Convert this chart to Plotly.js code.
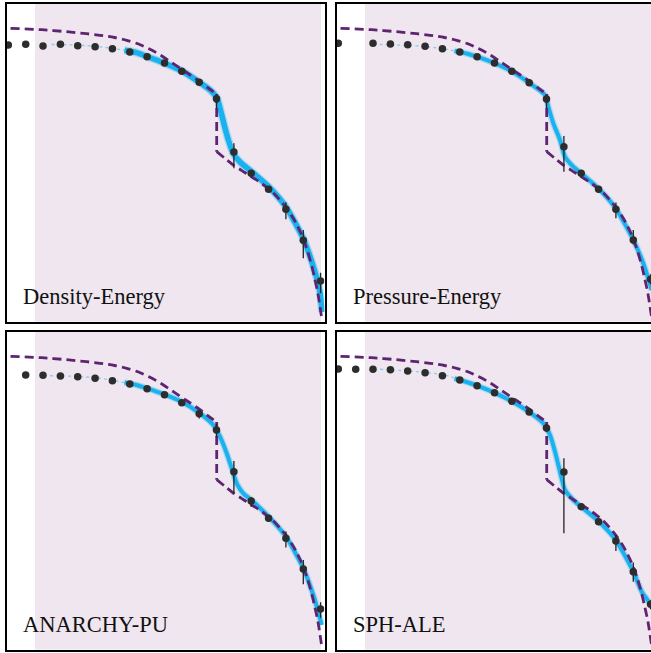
<!DOCTYPE html>
<html>
<head>
<meta charset="utf-8">
<script src="https://cdn.plot.ly/plotly-3.0.1.min.js"></script>
<style>
html, body { margin: 0; padding: 0; overflow: hidden; background: #fff; }
#chart { width: 662px; height: 653px; }
</style>
</head>
<body>
<div id="chart"></div>
<script>
// ---------- data (arbitrary units) ----------
const panelNames = ['Density-Energy', 'Pressure-Energy', 'ANARCHY-PU', 'SPH-ALE'];

// bin centres of the binned means
const xBins = [1.8, 19.2, 36.5, 53.9, 71.2, 88.6, 105.9, 123.3, 140.6, 158.0, 175.3, 192.7, 210.0, 227.4, 244.7, 262.1, 279.4, 296.8, 314.1];

// binned means + asymmetric errors
const meanDE  = [276.5, 277.2, 275.5, 277.2, 275.8, 274.8, 272.8, 269.5, 264.8, 258.5, 250.2, 239.2, 222.8, 169.5, 148.2, 132.2, 112.2, 81.2, 40.5];
const errUpDE = [0, 0, 0, 0, 0, 0, 0, 0, 0, 0, 0, 1, 4.3, 8.7, 2, 1, 7, 10.3, 8.3];
const errDnDE = [0, 0, 0, 0, 0, 0, 0, 0, 0, 0, 0, 2, 9.7, 16.3, 3, 2, 10, 18, 12.3];

const meanPE  = [278.2, null, 278.2, 277.5, 276.8, 275.2, 272.8, 269.5, 264.8, 258.5, 250.2, 238.8, 222.5, 174.8, 148.2, 132.2, 112.2, 81.5, 42.2];
const errUpPE = [0, 0, 0, 0, 0, 0, 0, 0, 0, 0, 0, 1, 4, 10.7, 2, 2, 6.7, 10, 5];
const errDnPE = [0, 0, 0, 0, 0, 0, 0, 0, 0, 0, 0, 1, 9.3, 25, 3, 3, 9, 4.3, 5];

const meanAPU  = [null, 274.5, 274.2, 273.5, 272.8, 271.2, 268.8, 265.5, 260.8, 254.8, 246.8, 235.8, 219.5, 177.8, 148.5, 131.2, 111.2, 80.5, 40.5];
const errUpAPU = [0, 0, 0, 0, 0, 0, 0, 0, 0, 0, 0, 3.7, 5.7, 10.7, 4, 2, 6.7, 9, 6.7];
const errDnAPU = [0, 0, 0, 0, 0, 0, 0, 0, 0, 0, 0, 4.7, 6.7, 21.7, 5.7, 3, 9.3, 15.3, 8.7];

const meanALE  = [280.5, 280.2, 280.2, 279.8, 278.5, 276.8, 273.8, 269.5, 263.8, 256.8, 248.2, 237.5, 221.5, 177.5, 142.8, 127.8, 108.5, 77.8, 45.2];
const errUpALE = [0, 0, 0, 0, 0, 0, 0, 0, 0, 0, 0, 1, 3.7, 13.7, 2, 2, 6, 9.3, 4];
const errDnALE = [0, 0, 0, 0, 0, 0, 0, 0, 0, 0, 0, 1, 4.3, 61.3, 3, 3, 10, 10, 5];

// analytic solution (same in every panel): pre-shock and post-shock branches
const anaPreX  = [4, 35, 60.2, 80, 93.5, 108, 120.2, 132, 143, 155, 166.8, 180, 193.5, 203, 210.2];
const anaPreY  = [293.2, 291.8, 289.8, 287.8, 286.2, 284, 281.2, 277.5, 272.5, 265.8, 257.8, 249, 239.8, 232.5, 227.5];
const anaPostX = [210.2, 218, 226.8, 235, 243.5, 252, 260.2, 267, 273, 280.2, 286, 290.2, 294, 297.5, 301, 304.5, 308, 311.5, 315.5];
const anaPostY = [169.8, 163.5, 156.5, 151.2, 145.5, 140.2, 134.2, 128.5, 122, 113.2, 104.5, 97, 89.2, 80.5, 70.5, 58.5, 44, 27.5, 1.5];

// particle cloud: sparse inner part and dense band
const faintXDE = [45, 70, 90, 110, 122];
const faintYDE = [277, 276.5, 275, 272.5, 270.5];
const bandXDE = [118, 130, 140.5, 157.5, 175.5, 192.5, 203.5, 210.5, 214.5, 218.5, 222.5, 226.5, 233.5, 245.5, 262.5, 279.5, 296.5, 308.5, 313.5, 315.5];
const bandYDE = [271.2, 268.8, 265, 258.5, 250.5, 239.5, 231.5, 223.5, 209.5, 193.5, 179.5, 168.5, 159.5, 149.5, 134.5, 114.5, 83.5, 49.5, 29.5, 9.5];

const faintXPE = [36.8, 60, 90.2, 112, 122];
const faintYPE = [277.2, 276.5, 274.8, 271.8, 269.8];
const bandXPE = [118, 130, 140.2, 157.5, 175.2, 192.5, 208.5, 211.8, 216.8, 223.5, 228.5, 236.8, 244.5, 261.8, 279.2, 296.5, 306.8, 315.2];
const bandYPE = [270.5, 268, 264.8, 258.5, 250.2, 238.8, 226.5, 214.8, 198.2, 181.5, 164.8, 154.8, 148.2, 133.2, 113.2, 82.2, 58.2, 31.5];

const faintXAPU = [43.5, 70, 93.5, 112, 122];
const faintYAPU = [273.8, 273, 271.2, 268, 266];
const bandXAPU = [118, 130, 140.5, 157.8, 175.2, 192.5, 206.8, 213.5, 220.2, 225.2, 230.2, 236.8, 244.8, 262.2, 279.5, 296.8, 306.8, 313.5, 315.2];
const bandYAPU = [267, 264.5, 261.2, 255.2, 247.8, 236.8, 224.5, 212.8, 196.2, 181.2, 166.2, 156.2, 149.5, 132.8, 112.8, 81.2, 54.5, 31.2, 24.5];

const faintXALE = [43.5, 65, 86.8, 108, 122];
const faintYALE = [280.2, 279, 277.2, 274.5, 270.2];
const bandXALE = [118, 130, 139.8, 157.2, 174.8, 192.2, 206.8, 213.5, 218.5, 223.5, 228.5, 236.8, 244.5, 261.8, 279.2, 296.5, 305.2, 313.5, 316.8];
const bandYALE = [271, 267.5, 264.2, 257.2, 248.5, 237.8, 226.2, 214.5, 197.8, 177.8, 159.5, 149.5, 142.8, 128.5, 109.5, 78.5, 57.8, 46.2, 41.2];

// shaded interval on the x axis
const shadeRange = [28.5, 314.5];

// ---------- build ----------
const PURPLE = '#5e2472';
const CYAN = '#19b2ee';
const DOT = '#2d2d2d';
const SHADE = '#efe6ef';
const SERIF = 'Liberation Serif';

const panels = [
  {name: panelNames[0], mean: meanDE,  up: errUpDE,  dn: errDnDE,  fx: faintXDE,  fy: faintYDE,  bx: bandXDE,  by: bandYDE,  bw: 5.5},
  {name: panelNames[1], mean: meanPE,  up: errUpPE,  dn: errDnPE,  fx: faintXPE,  fy: faintYPE,  bx: bandXPE,  by: bandYPE,  bw: 4},
  {name: panelNames[2], mean: meanAPU, up: errUpAPU, dn: errDnAPU, fx: faintXAPU, fy: faintYAPU, bx: bandXAPU, by: bandYAPU, bw: 4},
  {name: panelNames[3], mean: meanALE, up: errUpALE, dn: errDnALE, fx: faintXALE, fy: faintYALE, bx: bandXALE, by: bandYALE, bw: 4}
];

const W = 662, H = 653;
const xDom = [[6.5 / W, 324.5 / W], [336.5 / W, 654.5 / W]];
const yDom = [[1 - 321.5 / H, 1 - 3.5 / H], [1 - 649.5 / H, 1 - 331.5 / H]];

const traces = [];
const shapes = [];
const annotations = [];
const layout = {
  width: W, height: H,
  margin: {l: 0, r: 0, t: 0, b: 0},
  paper_bgcolor: '#ffffff',
  plot_bgcolor: '#ffffff',
  showlegend: false,
  font: {family: SERIF, color: '#000'}
};

const anaStyle = {color: PURPLE, width: 2.8, dash: '9px,5px'};

panels.forEach((p, i) => {
  const n = i + 1;
  const xa = n === 1 ? 'x' : 'x' + n;
  const ya = n === 1 ? 'y' : 'y' + n;
  const xKey = n === 1 ? 'xaxis' : 'xaxis' + n;
  const yKey = n === 1 ? 'yaxis' : 'yaxis' + n;
  const col = i % 2, row = Math.floor(i / 2);
  const axCommon = {
    showgrid: false, zeroline: false, showticklabels: false, ticks: '',
    showline: true, mirror: true, linecolor: '#000', linewidth: 2, fixedrange: true
  };
  layout[xKey] = Object.assign({}, axCommon, {domain: xDom[col], range: [0, 318], anchor: ya});
  layout[yKey] = Object.assign({}, axCommon, {domain: yDom[row], range: [0, 318], anchor: xa});

  shapes.push({
    type: 'rect', xref: xa, yref: ya + ' domain',
    x0: shadeRange[0], x1: shadeRange[1], y0: 0, y1: 1,
    fillcolor: SHADE, line: {width: 0}, layer: 'below'
  });

  // sparse particles
  traces.push({
    x: p.fx, y: p.fy, xaxis: xa, yaxis: ya, mode: 'lines',
    line: {color: CYAN, width: 1.4, dash: 'dot', shape: 'spline'}, opacity: 0.45, hoverinfo: 'skip'
  });
  // scatter halo of band
  traces.push({
    x: p.bx, y: p.by, xaxis: xa, yaxis: ya, mode: 'lines',
    line: {color: CYAN, width: p.bw + 2.5, shape: 'spline', smoothing: 0.6}, opacity: 0.3, hoverinfo: 'skip'
  });
  // dense band
  traces.push({
    x: p.bx, y: p.by, xaxis: xa, yaxis: ya, mode: 'lines',
    line: {color: CYAN, width: p.bw, shape: 'spline', smoothing: 0.6}, hoverinfo: 'skip'
  });
  // analytic: pre-shock, jump, post-shock
  traces.push({
    x: anaPreX, y: anaPreY, xaxis: xa, yaxis: ya, mode: 'lines',
    line: Object.assign({shape: 'spline', smoothing: 0.8}, anaStyle), hoverinfo: 'skip'
  });
  traces.push({
    x: [anaPreX[anaPreX.length - 1], anaPostX[0]], y: [anaPreY[anaPreY.length - 1], anaPostY[0]],
    xaxis: xa, yaxis: ya, mode: 'lines', line: anaStyle, hoverinfo: 'skip'
  });
  traces.push({
    x: anaPostX, y: anaPostY, xaxis: xa, yaxis: ya, mode: 'lines',
    line: Object.assign({shape: 'spline', smoothing: 0.8}, anaStyle), hoverinfo: 'skip'
  });
  // binned means
  traces.push({
    x: xBins, y: p.mean, xaxis: xa, yaxis: ya, mode: 'markers',
    marker: {color: DOT, size: 7.5},
    error_y: {type: 'data', symmetric: false, array: p.up, arrayminus: p.dn, color: '#222', thickness: 1.3, width: 0},
    hoverinfo: 'skip'
  });

  annotations.push({
    xref: xa, yref: ya, x: 14.5, y: 25.5, xanchor: 'left', yanchor: 'middle',
    text: p.name, showarrow: false,
    font: {family: SERIF, size: 22.5, color: '#111'}
  });
});

layout.shapes = shapes;
layout.annotations = annotations;

Plotly.newPlot('chart', traces, layout, {staticPlot: true, displayModeBar: false});
</script>
</body>
</html>
